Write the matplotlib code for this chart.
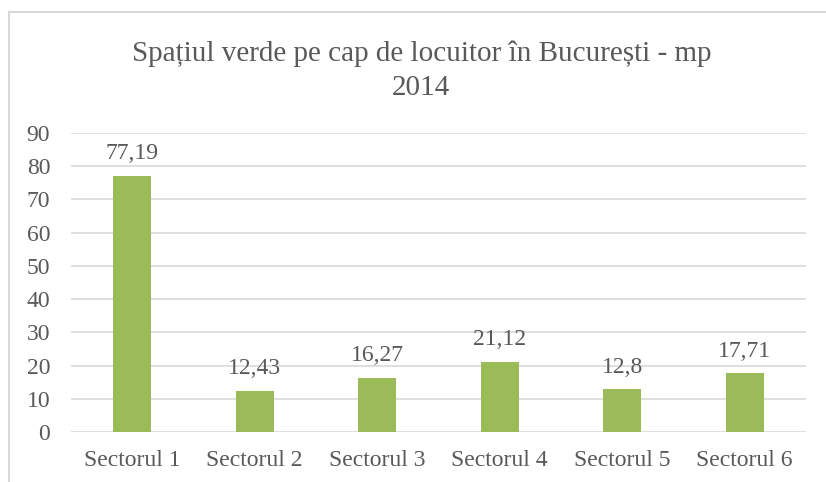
import matplotlib.pyplot as plt
from matplotlib.patches import Rectangle

sectors = ["Sectorul 1", "Sectorul 2", "Sectorul 3", "Sectorul 4", "Sectorul 5", "Sectorul 6"]
values = [77.19, 12.43, 16.27, 21.12, 12.8, 17.71]
labels = ["77,19", "12,43", "16,27", "21,12", "12,8", "17,71"]
yticks = [0, 10, 20, 30, 40, 50, 60, 70, 80, 90]

plt.rcParams['font.family'] = ['Liberation Serif', 'DejaVu Serif']
txt = "#595959"
grid = "#d9d9d9"

fig = plt.figure(figsize=(8.26, 4.82), dpi=100)
# chart frame
fig.patches.append(Rectangle((9/826, -0.1), 1.2, 1 - 12/482 + 0.1, transform=fig.transFigure,
                             fill=False, edgecolor=grid, linewidth=1.5))
ax = fig.add_axes([71/826, 50/482, 735/826, 299/482])

x = range(len(sectors))
ax.bar(x, values, width=0.31, color="#9bbb59", zorder=3)
for i, (v, l) in enumerate(zip(values, labels)):
    ax.text(i, v + 3.5, l, ha="center", va="bottom", fontsize=17, color=txt)

ax.set_xlim(-0.5, len(sectors) - 0.5)
ax.set_ylim(0, 90)
ax.set_yticks(yticks)
ax.set_xticks(list(x))
ax.set_xticklabels(sectors)
ax.tick_params(axis="both", length=0, labelsize=17, labelcolor=txt)
ax.tick_params(axis="y", pad=15)
ax.tick_params(axis="x", pad=13)
ax.yaxis.grid(True, color=grid, linewidth=1.2, zorder=0)
for s in ax.spines.values():
    s.set_visible(False)

fig.text(0.51, 1 - 71/482, "Spațiul verde pe cap de locuitor în București - mp\n2014",
         ha="center", va="center", fontsize=21, color=txt, linespacing=1.4)

fig.savefig("out.png", dpi=100)
